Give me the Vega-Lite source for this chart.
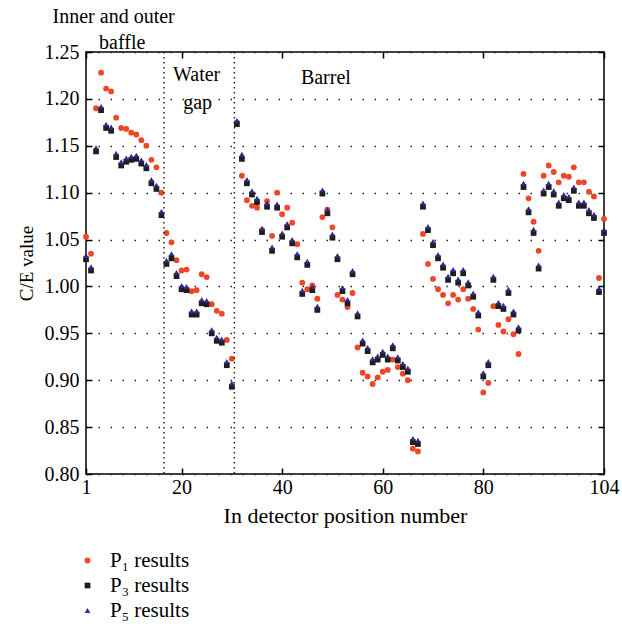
{
  "$schema": "https://vega.github.io/schema/vega-lite/v6.json",
  "width": 518,
  "height": 422,
  "autosize": {"type": "none"},
  "padding": {"left": 86, "top": 52, "right": 18, "bottom": 155},
  "background": "white",
  "config": {
    "font": "Liberation Serif",
    "view": {"stroke": "black", "strokeWidth": 1.5},
    "axis": {
      "domain": false,
      "labelFont": "Liberation Serif",
      "titleFont": "Liberation Serif",
      "labelColor": "black",
      "titleColor": "black",
      "tickColor": "black",
      "tickWidth": 1.5,
      "labelFontWeight": "normal",
      "titleFontWeight": "normal"
    }
  },
  "datasets": {
    "pts": [
      {"pos": 1, "p1": 1.053, "p3": 1.029, "p5": 1.033},
      {"pos": 2, "p1": 1.035, "p3": 1.017, "p5": 1.021},
      {"pos": 3, "p1": 1.190, "p3": 1.144, "p5": 1.148},
      {"pos": 4, "p1": 1.228, "p3": 1.188, "p5": 1.192},
      {"pos": 5, "p1": 1.211, "p3": 1.169, "p5": 1.173},
      {"pos": 6, "p1": 1.208, "p3": 1.166, "p5": 1.170},
      {"pos": 7, "p1": 1.180, "p3": 1.138, "p5": 1.142},
      {"pos": 8, "p1": 1.169, "p3": 1.129, "p5": 1.133},
      {"pos": 9, "p1": 1.168, "p3": 1.133, "p5": 1.137},
      {"pos": 10, "p1": 1.164, "p3": 1.135, "p5": 1.139},
      {"pos": 11, "p1": 1.162, "p3": 1.136, "p5": 1.140},
      {"pos": 12, "p1": 1.156, "p3": 1.131, "p5": 1.135},
      {"pos": 13, "p1": 1.150, "p3": 1.126, "p5": 1.130},
      {"pos": 14, "p1": 1.135, "p3": 1.110, "p5": 1.114},
      {"pos": 15, "p1": 1.127, "p3": 1.104, "p5": 1.108},
      {"pos": 16, "p1": 1.100, "p3": 1.076, "p5": 1.080},
      {"pos": 17, "p1": 1.057, "p3": 1.024, "p5": 1.028},
      {"pos": 18, "p1": 1.047, "p3": 1.030, "p5": 1.035},
      {"pos": 19, "p1": 1.028, "p3": 1.011, "p5": 1.015},
      {"pos": 20, "p1": 1.017, "p3": 0.997, "p5": 1.001},
      {"pos": 21, "p1": 1.018, "p3": 0.996, "p5": 1.000},
      {"pos": 22, "p1": 0.995, "p3": 0.970, "p5": 0.974},
      {"pos": 23, "p1": 0.996, "p3": 0.970, "p5": 0.974},
      {"pos": 24, "p1": 1.013, "p3": 0.982, "p5": 0.986},
      {"pos": 25, "p1": 1.010, "p3": 0.981, "p5": 0.985},
      {"pos": 26, "p1": 0.981, "p3": 0.950, "p5": 0.954},
      {"pos": 27, "p1": 0.974, "p3": 0.942, "p5": 0.946},
      {"pos": 28, "p1": 0.971, "p3": 0.940, "p5": 0.944},
      {"pos": 29, "p1": 0.943, "p3": 0.916, "p5": 0.920},
      {"pos": 30, "p1": 0.923, "p3": 0.893, "p5": 0.897},
      {"pos": 31, "p1": 1.175, "p3": 1.173, "p5": 1.177},
      {"pos": 32, "p1": 1.118, "p3": 1.136, "p5": 1.141},
      {"pos": 33, "p1": 1.092, "p3": 1.110, "p5": 1.114},
      {"pos": 34, "p1": 1.086, "p3": 1.098, "p5": 1.102},
      {"pos": 35, "p1": 1.084, "p3": 1.090, "p5": 1.094},
      {"pos": 36, "p1": 1.060, "p3": 1.058, "p5": 1.062},
      {"pos": 37, "p1": 1.091, "p3": 1.085, "p5": 1.089},
      {"pos": 38, "p1": 1.054, "p3": 1.038, "p5": 1.042},
      {"pos": 39, "p1": 1.100, "p3": 1.084, "p5": 1.088},
      {"pos": 40, "p1": 1.077, "p3": 1.053, "p5": 1.057},
      {"pos": 41, "p1": 1.084, "p3": 1.063, "p5": 1.067},
      {"pos": 42, "p1": 1.068, "p3": 1.046, "p5": 1.050},
      {"pos": 43, "p1": 1.045, "p3": 1.031, "p5": 1.035},
      {"pos": 44, "p1": 1.004, "p3": 0.992, "p5": 0.996},
      {"pos": 45, "p1": 0.997, "p3": 1.023, "p5": 1.027},
      {"pos": 46, "p1": 1.001, "p3": 0.996, "p5": 1.000},
      {"pos": 47, "p1": 0.987, "p3": 0.975, "p5": 0.979},
      {"pos": 48, "p1": 1.074, "p3": 1.099, "p5": 1.103},
      {"pos": 49, "p1": 1.082, "p3": 1.078, "p5": 1.082},
      {"pos": 50, "p1": 1.063, "p3": 1.052, "p5": 1.056},
      {"pos": 51, "p1": 0.991, "p3": 1.029, "p5": 1.033},
      {"pos": 52, "p1": 0.986, "p3": 0.995, "p5": 0.999},
      {"pos": 53, "p1": 0.978, "p3": 0.982, "p5": 0.986},
      {"pos": 54, "p1": 0.993, "p3": 1.013, "p5": 1.017},
      {"pos": 55, "p1": 0.935, "p3": 0.968, "p5": 0.972},
      {"pos": 56, "p1": 0.908, "p3": 0.939, "p5": 0.943},
      {"pos": 57, "p1": 0.904, "p3": 0.931, "p5": 0.935},
      {"pos": 58, "p1": 0.896, "p3": 0.919, "p5": 0.923},
      {"pos": 59, "p1": 0.903, "p3": 0.922, "p5": 0.926},
      {"pos": 60, "p1": 0.909, "p3": 0.927, "p5": 0.931},
      {"pos": 61, "p1": 0.911, "p3": 0.922, "p5": 0.926},
      {"pos": 62, "p1": 0.922, "p3": 0.934, "p5": 0.938},
      {"pos": 63, "p1": 0.914, "p3": 0.921, "p5": 0.925},
      {"pos": 64, "p1": 0.907, "p3": 0.914, "p5": 0.918},
      {"pos": 65, "p1": 0.900, "p3": 0.909, "p5": 0.913},
      {"pos": 66, "p1": 0.827, "p3": 0.834, "p5": 0.838},
      {"pos": 67, "p1": 0.824, "p3": 0.832, "p5": 0.836},
      {"pos": 68, "p1": 1.056, "p3": 1.085, "p5": 1.089},
      {"pos": 69, "p1": 1.024, "p3": 1.060, "p5": 1.064},
      {"pos": 70, "p1": 1.008, "p3": 1.044, "p5": 1.048},
      {"pos": 71, "p1": 0.997, "p3": 1.030, "p5": 1.034},
      {"pos": 72, "p1": 0.991, "p3": 1.020, "p5": 1.024},
      {"pos": 73, "p1": 0.982, "p3": 1.007, "p5": 1.011},
      {"pos": 74, "p1": 0.991, "p3": 1.014, "p5": 1.018},
      {"pos": 75, "p1": 0.986, "p3": 1.004, "p5": 1.008},
      {"pos": 76, "p1": 0.997, "p3": 1.014, "p5": 1.018},
      {"pos": 77, "p1": 0.987, "p3": 1.001, "p5": 1.005},
      {"pos": 78, "p1": 0.976, "p3": 0.989, "p5": 0.993},
      {"pos": 79, "p1": 0.954, "p3": 0.969, "p5": 0.973},
      {"pos": 80, "p1": 0.887, "p3": 0.904, "p5": 0.908},
      {"pos": 81, "p1": 0.897, "p3": 0.916, "p5": 0.920},
      {"pos": 82, "p1": 0.979, "p3": 1.007, "p5": 1.011},
      {"pos": 83, "p1": 0.959, "p3": 0.979, "p5": 0.983},
      {"pos": 84, "p1": 0.952, "p3": 0.976, "p5": 0.980},
      {"pos": 85, "p1": 0.965, "p3": 0.993, "p5": 0.997},
      {"pos": 86, "p1": 0.949, "p3": 0.970, "p5": 0.974},
      {"pos": 87, "p1": 0.928, "p3": 0.953, "p5": 0.957},
      {"pos": 88, "p1": 1.120, "p3": 1.106, "p5": 1.110},
      {"pos": 89, "p1": 1.094, "p3": 1.079, "p5": 1.083},
      {"pos": 90, "p1": 1.069, "p3": 1.057, "p5": 1.061},
      {"pos": 91, "p1": 1.038, "p3": 1.019, "p5": 1.023},
      {"pos": 92, "p1": 1.118, "p3": 1.099, "p5": 1.103},
      {"pos": 93, "p1": 1.129, "p3": 1.106, "p5": 1.110},
      {"pos": 94, "p1": 1.122, "p3": 1.098, "p5": 1.102},
      {"pos": 95, "p1": 1.111, "p3": 1.086, "p5": 1.090},
      {"pos": 96, "p1": 1.118, "p3": 1.094, "p5": 1.098},
      {"pos": 97, "p1": 1.117, "p3": 1.092, "p5": 1.096},
      {"pos": 98, "p1": 1.127, "p3": 1.102, "p5": 1.106},
      {"pos": 99, "p1": 1.111, "p3": 1.086, "p5": 1.090},
      {"pos": 100, "p1": 1.111, "p3": 1.086, "p5": 1.090},
      {"pos": 101, "p1": 1.101, "p3": 1.078, "p5": 1.082},
      {"pos": 102, "p1": 1.096, "p3": 1.073, "p5": 1.077},
      {"pos": 103, "p1": 1.009, "p3": 0.994, "p5": 0.998},
      {"pos": 104, "p1": 1.072, "p3": 1.057, "p5": 1.061}
    ],
    "seps": [{"xs": 16.5}, {"xs": 30.5}],
    "notes": [
      {"nx": 6.5, "ny": 1.287, "t": "Inner and outer"},
      {"nx": 8.2, "ny": 1.2595, "t": "baffle"},
      {"nx": 23.0, "ny": 1.2255, "t": "Water"},
      {"nx": 23.2, "ny": 1.1956, "t": "gap"},
      {"nx": 48.7, "ny": 1.222, "t": "Barrel"}
    ]
  },
  "layer": [
    {
      "data": {"name": "pts"},
      "transform": [{"fold": ["p1", "p3", "p5"], "as": ["series", "value"]}],
      "mark": {"type": "point", "filled": true, "opacity": 1},
      "encoding": {
        "x": {
          "field": "pos", "type": "quantitative",
          "scale": {"domain": [1, 104], "nice": false, "zero": false},
          "axis": {
            "orient": "bottom", "values": [1, 20, 40, 60, 80, 104],
            "grid": false, "tickSize": -6, "labelPadding": 9,
            "labelFontSize": 20, "title": "In detector position number",
            "titleFontSize": 22, "titlePadding": 8, "labelFlush": false
          }
        },
        "y": {
          "field": "value", "type": "quantitative",
          "scale": {"domain": [0.8, 1.25], "nice": false, "zero": false},
          "axis": {
            "orient": "left",
            "values": [0.8, 0.85, 0.9, 0.95, 1.0, 1.05, 1.1, 1.15, 1.2, 1.25],
            "format": ".2f", "grid": true, "gridColor": "#222", "gridWidth": 1.5,
            "gridDash": [1.5, 10.5], "tickSize": -6, "labelPadding": 13,
            "labelFontSize": 20, "title": "C/E value", "titleFontSize": 19,
            "titlePadding": 8
          }
        },
        "color": {
          "field": "series", "type": "nominal",
          "scale": {"domain": ["p1", "p3", "p5"], "range": ["#F04628", "#1E1E1E", "#32288C"]},
          "legend": {
            "orient": "none", "legendX": -9, "legendY": 498, "title": null,
            "labelFontSize": 21, "labelFont": "Liberation Serif", "labelColor": "black",
            "rowPadding": 3, "labelOffset": 12,
            "labelExpr": "datum.label == 'p1' ? 'P₁ results' : datum.label == 'p3' ? 'P₃ results' : 'P₅ results'"
          }
        },
        "shape": {
          "field": "series", "type": "nominal",
          "scale": {"domain": ["p1", "p3", "p5"], "range": ["circle", "square", "triangle-up"]}
        },
        "size": {
          "field": "series", "type": "nominal",
          "scale": {"domain": ["p1", "p3", "p5"], "range": [34, 32, 55]}
        },
        "order": {"field": "series"}
      }
    },
    {
      "data": {"name": "pts"},
      "mark": {"type": "point", "opacity": 0},
      "encoding": {
        "x": {
          "field": "pos", "type": "quantitative",
          "axis": {"orient": "top", "values": [1, 20, 40, 60, 80, 104], "labels": false, "title": null, "grid": false, "tickSize": -6}
        },
        "y": {
          "field": "p5", "type": "quantitative",
          "axis": {"orient": "right", "values": [0.8, 0.85, 0.9, 0.95, 1.0, 1.05, 1.1, 1.15, 1.2, 1.25], "labels": false, "title": null, "grid": false, "tickSize": -6}
        }
      }
    },
    {
      "data": {"name": "seps"},
      "mark": {"type": "rule", "color": "#222", "strokeWidth": 1.5, "strokeDash": [1.5, 3.5]},
      "encoding": {"x": {"field": "xs", "type": "quantitative", "axis": null}}
    },
    {
      "data": {"name": "notes"},
      "mark": {"type": "text", "fontSize": 20, "font": "Liberation Serif", "color": "black", "align": "center", "baseline": "middle"},
      "encoding": {
        "x": {"field": "nx", "type": "quantitative", "axis": null},
        "y": {"field": "ny", "type": "quantitative", "axis": null},
        "text": {"field": "t"}
      }
    }
  ],
  "resolve": {"axis": {"x": "independent", "y": "independent"}}
}
